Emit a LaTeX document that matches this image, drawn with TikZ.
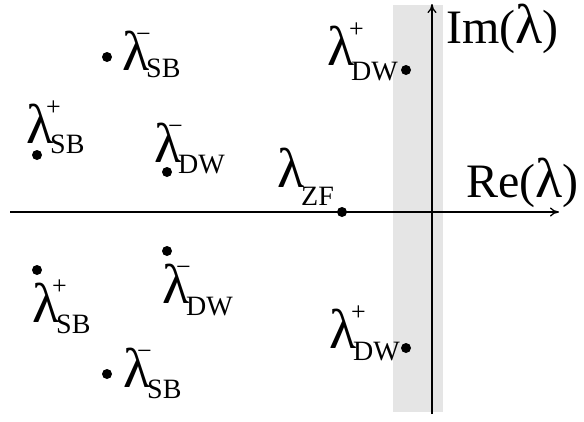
\documentclass[tikz,border=0pt]{standalone}
\usepackage{fontspec}
\setmainfont{Liberation Serif}
\usetikzlibrary{arrows.meta}
\newcommand\supfont{\fontsize{26}{26}\selectfont}
\newcommand\subfont{\fontsize{28}{28}\selectfont}
\newcommand\biglam{{\fontsize{56}{56}\selectfont λ}}
% #1 sup, #2 sup x offset, #3 sub, #4 sub drop
\newcommand\lam[4]{\rlap{\biglam}\rlap{\hspace{#2pt}\raisebox{28pt}{\supfont #1}}\hspace{24pt}\raisebox{-#4pt}{\subfont #3}}
\begin{document}
\begin{tikzpicture}[x=1pt,y=-1pt,
  lbl/.style={anchor=base west,inner sep=0pt,font=\fontsize{48}{48}\selectfont},
  pt/.style={circle,fill=black,inner sep=0pt,minimum size=10pt},
  axis/.style={line width=1.3pt,-{To[length=9pt,width=9pt]}}]
\useasboundingbox (0,0) rectangle (584,421);
\fill[gray!20] (393,5) rectangle (443,412);
% axes
\coordinate (xs) at (10,212);
\coordinate (xe) at (559,212);
\coordinate (ys) at (432,414);
\coordinate (ye) at (432,4);
\draw[axis] (xs) -- (xe);
\draw[axis] (ys) -- (ye);
\node[lbl] (im) at (446,43) {Im(\biglam)};
\node[lbl] (re) at (466,197) {Re(\biglam)};
% dots
\node[pt] (d1) at (107,57) {};
\node[pt] (d2) at (37,155) {};
\node[pt] (d3) at (167,172) {};
\node[pt] (d4) at (342,212) {};
\node[pt] (d5) at (406,70) {};
\node[pt] (d6) at (37,270) {};
\node[pt] (d7) at (167,251) {};
\node[pt] (d8) at (107,374) {};
\node[pt] (d9) at (406,348) {};
% labels
\node[lbl] (l1) at (122,70) {\lam{−}{14}{SB}{7}};
\node[lbl] (l2) at (26,143) {\lam{+}{20}{SB}{10}};
\node[lbl] (l3) at (154,162) {\lam{−}{14}{DW}{11}};
\node[lbl] (l4) at (277,187) {\lam{}{0}{ZF}{18}};
\node[lbl] (l5) at (327,65) {\lam{+}{22}{DW}{15}};
\node[lbl] (l6) at (32,322) {\lam{+}{20}{SB}{11}};
\node[lbl] (l7) at (162,303) {\lam{−}{14}{DW}{12}};
\node[lbl] (l8) at (123,387) {\lam{−}{14}{SB}{11}};
\node[lbl] (l9) at (329,348) {\lam{+}{22}{DW}{12}};
\end{tikzpicture}
\end{document}
